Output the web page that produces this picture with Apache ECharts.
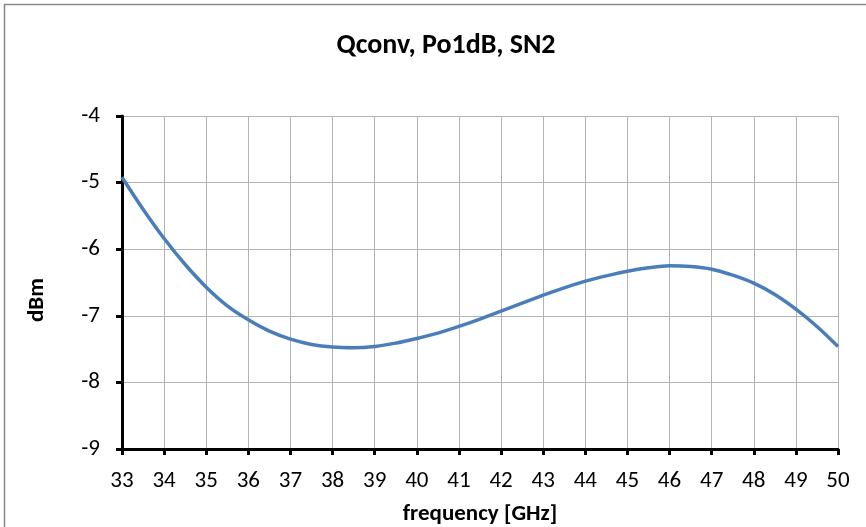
<!DOCTYPE html>
<html><head><meta charset="utf-8">
<script src="https://cdn.jsdelivr.net/npm/echarts@6/dist/echarts.min.js"></script>
<style>html,body{margin:0;padding:0;background:#fff}#c{width:866px;height:527px}</style>
</head><body><div id="c"></div>
<script>
const titleText = "Qconv, Po1dB, SN2";
const xName = "frequency [GHz]";
const yName = "dBm";
const freq = [33,33.5,34,34.5,35,35.5,36,36.5,37,37.5,38,38.5,39,39.5,40,40.5,41,41.5,42,42.5,43,43.5,44,44.5,45,45.5,46,46.5,47,47.5,48,48.5,49,49.5,50];
const po1db = [-4.92,-5.40,-5.84,-6.23,-6.57,-6.85,-7.06,-7.23,-7.35,-7.43,-7.47,-7.48,-7.46,-7.41,-7.34,-7.26,-7.16,-7.05,-6.93,-6.81,-6.69,-6.58,-6.48,-6.40,-6.33,-6.28,-6.25,-6.26,-6.30,-6.39,-6.51,-6.68,-6.90,-7.16,-7.46];

const font = "Carlito, 'Liberation Sans Narrow', 'Liberation Sans', sans-serif";
const chart = echarts.init(document.getElementById('c'), null, {renderer:'canvas'});
chart.setOption({
  animation:false,
  backgroundColor:'#fff',
  graphic:[
    {type:'rect',shape:{x:4.5,y:4.5,width:880,height:540},style:{fill:'none',stroke:'#888',lineWidth:1.5},silent:true},
    {type:'text',x:37,y:300,rotation:Math.PI/2,style:{text:yName,font:"bold 23px " + font,fill:'#000',align:'center',verticalAlign:'middle'},silent:true}
  ],
  title:{text:titleText,left:441,top:27,textAlign:'center',textStyle:{fontFamily:font,fontSize:28,fontWeight:'bold',color:'#000'}},
  grid:{left:122,top:116,right:28,bottom:78,containLabel:false,outerBoundsMode:'none'},
  xAxis:{type:'value',min:33,max:50,interval:1,
    name:xName,nameLocation:'middle',nameGap:54,
    nameTextStyle:{fontFamily:font,fontSize:23,fontWeight:'bold',color:'#000'},
    axisLine:{onZero:false,lineStyle:{color:'#000',width:3}},
    axisTick:{show:true,length:6,lineStyle:{color:'#000',width:3}},
    axisLabel:{fontFamily:font,fontSize:23,color:'#000',margin:21},
    splitLine:{show:true,lineStyle:{color:'#b3b3b3',width:1}}},
  yAxis:{type:'value',min:-9,max:-4,interval:1,
    axisLine:{show:true,onZero:false,lineStyle:{color:'#000',width:3}},
    axisTick:{show:true,length:6,lineStyle:{color:'#000',width:3}},
    axisLabel:{fontFamily:font,fontSize:23,color:'#000',margin:22},
    splitLine:{show:true,lineStyle:{color:'#b3b3b3',width:1}}},
  series:[{type:'line',data:freq.map((f,i)=>[f,po1db[i]]),smooth:0.3,showSymbol:false,
    lineStyle:{color:'#4a7ebb',width:3.5}}]
});
</script></body></html>
